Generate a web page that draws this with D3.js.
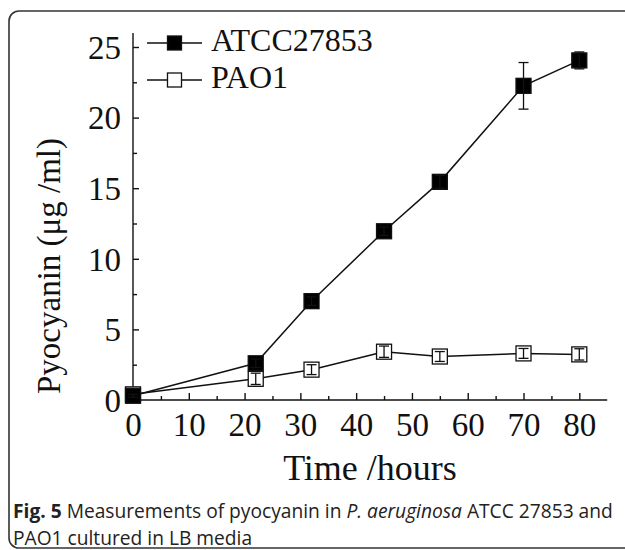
<!DOCTYPE html>
<html><head><meta charset="utf-8">
<script src="https://cdn.jsdelivr.net/npm/d3@7"></script>
<style>body{margin:0;background:#fff}svg{display:block}</style>
</head><body>
<script>
const hours = [0, 22, 32, 45, 55, 70, 80];
const atccMean = [0.3, 2.6, 7.0, 11.95, 15.45, 22.25, 24.05];
const atccErr  = [0.1, 0.3, 0.3, 0.3, 0.45, 1.65, 0.6];
const pao1Mean = [0.4, 1.5, 2.15, 3.42, 3.08, 3.3, 3.23];
const pao1Err  = [0.25, 0.4, 0.35, 0.4, 0.35, 0.35, 0.4];
const xTicks = [0, 10, 20, 30, 40, 50, 60, 70, 80];
const yTicks = [0, 5, 10, 15, 20, 25];
const seriesNames = ["ATCC27853", "PAO1"];

const W = 625, H = 550;
const svg = d3.select("body").append("svg").attr("width", W).attr("height", H);

// frame
svg.append("rect").attr("x", 9).attr("y", 11).attr("width", 640).attr("height", 537)
  .attr("rx", 10).attr("fill", "none").attr("stroke", "#333").attr("stroke-width", 1.6);

const x = d3.scaleLinear().domain([0, 85]).range([133, 607.2]);
const y = d3.scaleLinear().domain([0, 25]).range([400, 47]);
const serif = "'Liberation Serif','Times New Roman',serif";

// axes
const xAxis = svg.append("g").attr("transform", `translate(0,${y(0)})`)
  .call(d3.axisBottom(x).tickValues(xTicks).tickSize(-7).tickPadding(13).tickSizeOuter(0));
const xMinor = svg.append("g").attr("transform", `translate(0,${y(0)})`)
  .call(d3.axisBottom(x).tickValues(d3.range(5, 85, 10)).tickSize(-4).tickFormat("").tickSizeOuter(0));
xMinor.select(".domain").remove();
const yAxis = svg.append("g").attr("transform", `translate(${x(0)},0)`)
  .call(d3.axisLeft(y).tickValues(yTicks).tickSize(-6).tickPadding(12).tickSizeOuter(0));
const yMinor = svg.append("g").attr("transform", `translate(${x(0)},0)`)
  .call(d3.axisLeft(y).tickValues(d3.range(2.5, 25, 5)).tickSize(-4).tickFormat("").tickSizeOuter(0));
yMinor.select(".domain").remove();
yAxis.select(".domain").attr("d", `M0,${y(0)}V${y(26)}`);
xAxis.select(".domain").attr("d", `M${x(0)},0H${x(85)}`);
svg.selectAll(".domain, .tick line").attr("stroke", "#111").attr("stroke-width", 1.4);
svg.selectAll(".tick text").attr("font-family", serif).attr("font-size", 33).attr("fill", "#111");
yAxis.selectAll(".tick text").attr("dy", "0.34em");

// axis titles
svg.append("text").attr("x", 370).attr("y", 480).attr("text-anchor", "middle")
  .attr("font-family", serif).attr("font-size", 36).attr("fill", "#111").text("Time /hours");
svg.append("text").attr("transform", "translate(60,266) rotate(-90)").attr("text-anchor", "middle")
  .attr("font-family", serif).attr("font-size", 33).attr("fill", "#111").text("Pyocyanin (μg /ml)");

const line = d3.line().x(d => x(d[0])).y(d => y(d[1]));
function drawSeries(means, errs, fill, size) {
  const pts = hours.map((h, i) => [h, means[i], errs[i]]);
  svg.append("path").datum(pts).attr("d", line).attr("fill", "none").attr("stroke", "#111").attr("stroke-width", 1.5);
  const g = svg.append("g");
  pts.forEach(p => {
    g.append("rect").attr("x", x(p[0]) - size / 2).attr("y", y(p[1]) - size / 2)
      .attr("width", size).attr("height", size).attr("fill", fill).attr("stroke", "#111").attr("stroke-width", 1.3);
  });
  const eb = g.append("g").attr("stroke", "#111").attr("stroke-width", 1.3);
  pts.forEach(p => {
    const cx = x(p[0]);
    eb.append("line").attr("x1", cx).attr("x2", cx).attr("y1", y(p[1] - p[2])).attr("y2", y(p[1] + p[2]));
    [p[1] - p[2], p[1] + p[2]].forEach(v =>
      eb.append("line").attr("x1", cx - 5).attr("x2", cx + 5).attr("y1", y(v)).attr("y2", y(v)));
  });
}
drawSeries(pao1Mean, pao1Err, "#fff", 15);
drawSeries(atccMean, atccErr, "#000", 15);

// legend
const leg = [[seriesNames[0], "#000", 43], [seriesNames[1], "#fff", 80]];
leg.forEach(([name, fill, ly]) => {
  svg.append("line").attr("x1", 147).attr("x2", 202).attr("y1", ly).attr("y2", ly).attr("stroke", "#111").attr("stroke-width", 1.5);
  svg.append("rect").attr("x", 167.5).attr("y", ly - 7).attr("width", 14).attr("height", 14)
    .attr("fill", fill).attr("stroke", "#111").attr("stroke-width", 1.3);
  svg.append("text").attr("x", 211).attr("y", ly + 8).attr("font-family", serif).attr("font-size", 32)
    .attr("fill", "#111").text(name);
});

// caption
const sans = "'Open Sans','Noto Sans',sans-serif";
const cap1 = svg.append("text").attr("x", 13).attr("y", 518).attr("font-family", sans).attr("font-size", 19.2).attr("fill", "#222");
cap1.append("tspan").attr("font-weight", "bold").text("Fig. 5");
cap1.append("tspan").text(" Measurements of pyocyanin in ");
cap1.append("tspan").attr("font-style", "italic").text("P. aeruginosa");
cap1.append("tspan").text(" ATCC 27853 and");
svg.append("text").attr("x", 13).attr("y", 545).attr("font-family", sans).attr("font-size", 19.2).attr("fill", "#222")
  .text("PAO1 cultured in LB media");
</script>
</body></html>
